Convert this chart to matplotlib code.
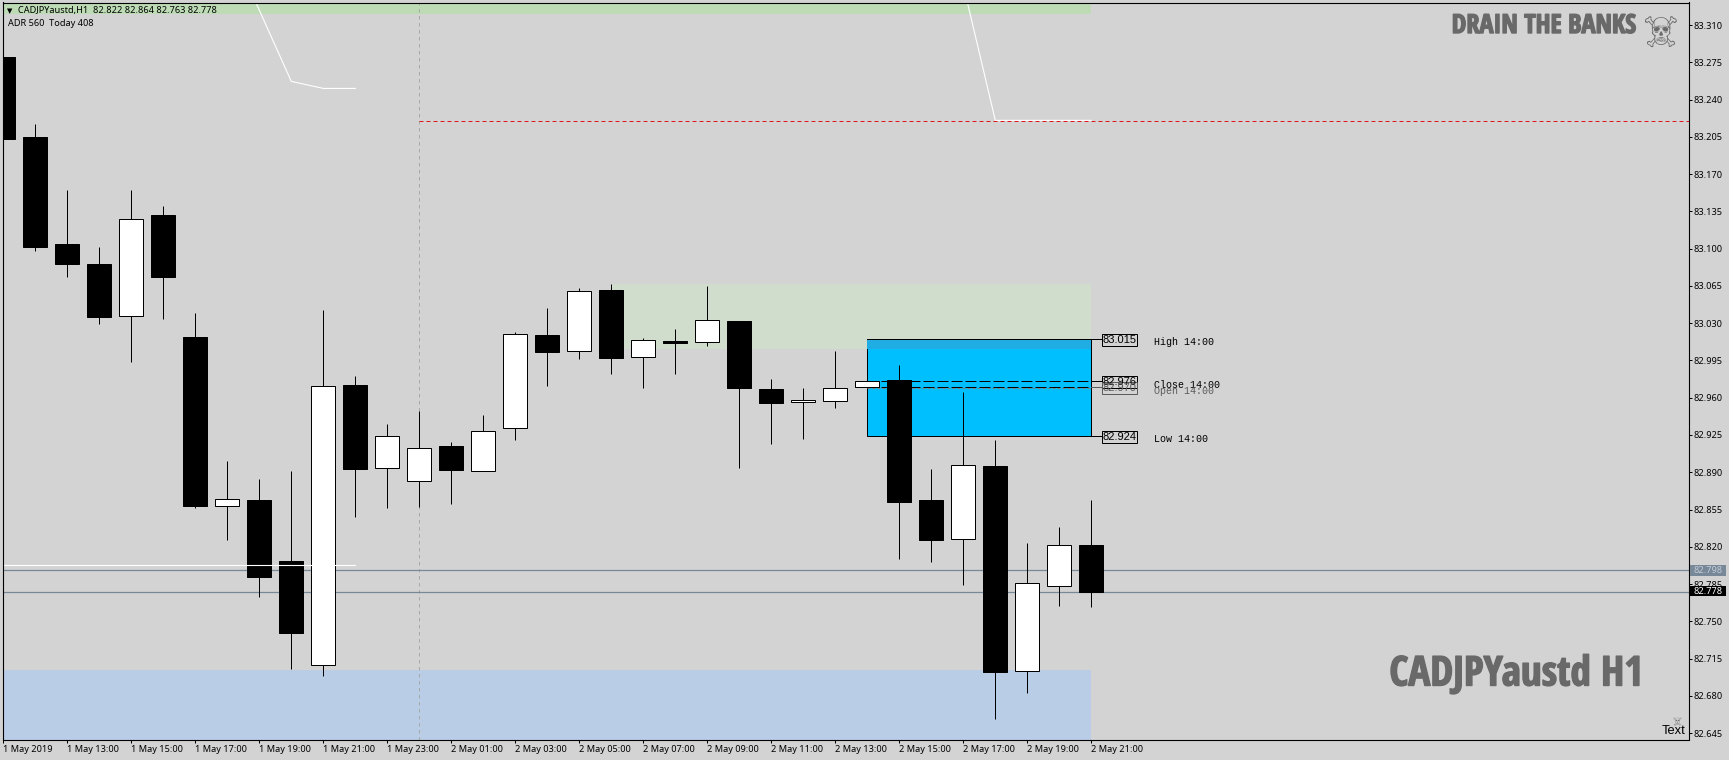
import matplotlib
matplotlib.use("Agg")
import matplotlib.pyplot as plt
import matplotlib.patheffects as pe
from matplotlib.patches import Rectangle

WIDTH = 1729
HEIGHT = 760

# open, high, low, close per hourly candle, from 1 May 11:00
opens = [83.280, 83.205, 83.104, 83.086, 83.037, 83.132, 83.017, 82.858, 82.864, 82.807,
         82.709, 82.972, 82.894, 82.882, 82.915, 82.891, 82.932, 83.019, 83.004, 83.061,
         82.998, 83.013, 83.012, 83.032, 82.968, 82.956, 82.957, 82.970, 82.977, 82.864,
         82.8275, 82.896, 82.7035, 82.783, 82.822]
highs = [83.297, 83.217, 83.155, 83.102, 83.155, 83.140, 83.040, 82.901, 82.884, 82.891,
         83.042, 82.980, 82.935, 82.948, 82.918, 82.944, 83.022, 83.044, 83.063, 83.067,
         83.016, 83.025, 83.065, 83.032, 82.978, 82.969, 83.004, 82.976, 82.991, 82.893,
         82.965, 82.920, 82.8235, 82.8385, 82.864]
lows = [83.181, 83.098, 83.073, 83.029, 82.994, 83.034, 82.856, 82.826, 82.773, 82.705,
        82.699, 82.848, 82.856, 82.857, 82.860, 82.891, 82.920, 82.971, 82.996, 82.982,
        82.969, 82.982, 83.009, 82.894, 82.917, 82.921, 82.950, 82.970, 82.8085, 82.806,
        82.784, 82.658, 82.683, 82.764, 82.763]
closes = [83.203, 83.102, 83.086, 83.036, 83.128, 83.073, 82.858, 82.865, 82.792, 82.739,
          82.971, 82.893, 82.924, 82.913, 82.892, 82.929, 83.020, 83.003, 83.060, 82.997,
          83.014, 83.011, 83.033, 82.969, 82.955, 82.958, 82.969, 82.976, 82.862, 82.826,
          82.8965, 82.702, 82.786, 82.822, 82.778]

x_labels = ["1 May 2019", "1 May 13:00", "1 May 15:00", "1 May 17:00", "1 May 19:00",
            "1 May 21:00", "1 May 23:00", "2 May 01:00", "2 May 03:00", "2 May 05:00",
            "2 May 07:00", "2 May 09:00", "2 May 11:00", "2 May 13:00", "2 May 15:00",
            "2 May 17:00", "2 May 19:00", "2 May 21:00"]
y_ticks = [83.310, 83.275, 83.240, 83.205, 83.170, 83.135, 83.100, 83.065, 83.030, 82.995,
           82.960, 82.925, 82.890, 82.855, 82.820, 82.785, 82.750, 82.715, 82.680, 82.645]

# white indicator lines
line1_x = [7, 8, 9, 10, 11]
line1_y = [83.391, 83.324, 83.2571, 83.2505, 83.2505]
line2_x = [30, 31, 34]
line2_y = [83.3476, 83.2205, 83.2205]
line3_x = [0, 11]
line3_y = [82.8025, 82.8025]

bid_price = 82.778
ask_price = 82.798
red_level = 83.2195
box_high = 83.015
box_low = 82.924
box_close = 82.976
box_open = 82.970

BG = "#d3d3d3"
SLATE = "#778899"
DIM = "#696969"
UI_FONT = "Noto Sans"
TICK_SIZE = 6.6

fig = plt.figure(figsize=(WIDTH / 100, HEIGHT / 100), dpi=100, facecolor=BG)
ax = fig.add_axes([2.5 / WIDTH, 1 - 739.5 / HEIGHT, 1686 / WIDTH, 737 / HEIGHT], facecolor=BG)
ax.set_xlim((2.5 - 3.3) / 32, (1688.5 - 3.3) / 32)
ax.set_ylim(82.639, 83.3312)


def ftext(x, y, s, **kw):
    # text placed by pixel position of the screenshot
    kw.setdefault("family", UI_FONT)
    kw.setdefault("va", "center")
    return fig.text(x / WIDTH, 1 - y / HEIGHT, s, **kw)


def fbox(x0, y0, x1, y1, **kw):
    fig.add_artist(Rectangle((x0 / WIDTH, 1 - y1 / HEIGHT), (x1 - x0) / WIDTH, (y1 - y0) / HEIGHT,
                             transform=fig.transFigure, **kw))


# zones
ax.add_patch(Rectangle((-1, 83.320), 35, 0.02, facecolor="#bddcb6", lw=0, zorder=1))
ax.add_patch(Rectangle((19, 83.0055), 15, 83.067 - 83.0055, facecolor="#d0dccc", lw=0, zorder=1))
ax.add_patch(Rectangle((-1, 82.63), 35, 82.704 - 82.63, facecolor="#b9cde6", lw=0, zorder=1))
ax.add_patch(Rectangle((27, box_low), 7, box_high - box_low, facecolor="#00bfff",
                       edgecolor="black", lw=0.72, zorder=2))
ax.add_patch(Rectangle((27, 83.0055), 7, box_high - 83.0055, facecolor="#1fade3", lw=0, zorder=2.1))
ax.plot([27, 34], [box_high, box_high], color="black", lw=0.72, zorder=2.2)

# levels
ax.axvline(13, color="#a9a9a9", lw=0.72, ls=(0, (3.5, 3.5)), zorder=1.5)
ax.plot([13, 53], [red_level, red_level], color="#e0161e", lw=0.72, ls=(0, (4, 3)), zorder=1.5)
ax.axhline(ask_price, color=SLATE, lw=0.9, zorder=1.6)
ax.axhline(bid_price, color=SLATE, lw=0.9, zorder=1.6)

# open and close lines of the 14:00 candle
ax.plot([27, 34], [box_close, box_close], color="black", lw=0.72, ls=(0, (11, 3)), zorder=2.5)
ax.plot([27, 34], [box_open + 0.0003, box_open + 0.0003], color="black", lw=0.72, ls=(0, (11, 3)), zorder=2.5)
ax.plot([27, 34], [box_open - 0.0012, box_open - 0.0012], color="#808080", lw=0.72, ls=(0, (3, 2)), zorder=2.6)

# candles
for i in range(len(opens)):
    top = max(opens[i], closes[i])
    bottom = min(opens[i], closes[i])
    ax.plot([i, i], [lows[i], highs[i]], color="black", lw=0.72, zorder=3, solid_capstyle="butt")
    face = "white" if closes[i] > opens[i] else "black"
    ax.add_patch(Rectangle((i - 0.375, bottom), 0.75, top - bottom, facecolor=face,
                           edgecolor="black", lw=0.72, zorder=4))

# white lines go over the candles
for xs, ys in [(line1_x, line1_y), (line2_x, line2_y), (line3_x, line3_y)]:
    ax.plot(xs, ys, color="white", lw=0.8, zorder=5)

# axes
for side in ax.spines.values():
    side.set_linewidth(0.8)
    side.set_color("black")
    side.set_zorder(6)
ax.yaxis.tick_right()
ax.set_yticks(y_ticks)
ax.set_yticklabels(["%.3f" % v for v in y_ticks], family=UI_FONT, fontsize=TICK_SIZE, color="black")
ax.tick_params(axis="y", length=2.2, width=0.72, pad=1.6)
ax.set_xticks(list(range(0, 35, 2))[:len(x_labels)])
ax.set_xticklabels(x_labels, family=UI_FONT, fontsize=TICK_SIZE, color="black", ha="left")
ax.tick_params(axis="x", length=2.2, width=0.72, pad=1.8)

# current price tags on the price scale
fbox(1690, 565.3, 1726, 575.7, facecolor=SLATE, lw=0)
ftext(1694, 570.6, "%.3f" % ask_price, fontsize=TICK_SIZE, color="#c4ccd4")
fbox(1690, 586.3, 1726, 596.3, facecolor="black", lw=0)
ftext(1694, 591.4, "%.3f" % bid_price, fontsize=TICK_SIZE, color="white")

# header texts
ftext(6.7, 10.7, "\u25bc", family="DejaVu Sans", fontsize=5, color="black")
ftext(18.3, 10.7, "CADJPYaustd,H1  82.822 82.864 82.763 82.778", fontsize=TICK_SIZE, color="black")
ftext(7.7, 23.7, "ADR 560  Today 408", fontsize=TICK_SIZE, color="black")

# watermarks
heavy = [pe.withStroke(linewidth=1.0, foreground=DIM)]
SYMBOLS = ["Noto Sans Symbols", "Noto Sans Symbols 2", "DejaVu Sans"]
ftext(1451.7, 25.5, "DRAIN THE BANKS", family="Open Sans Condensed", weight="bold", fontsize=18.9,
      color=DIM, path_effects=heavy)
ftext(1660.8, 36, "\u2620", family=SYMBOLS, fontsize=28, color=DIM, ha="center")
ftext(1389.3, 675, "CADJPYaustd H1", family="Open Sans Condensed", weight="bold", fontsize=29.6,
      color=DIM, path_effects=heavy)
ftext(1677.3, 723, "\u2620", family=SYMBOLS, fontsize=7, color=DIM, ha="center")
ftext(1662, 731, "Text", family="Liberation Sans", fontsize=9.3, color="black")

# high low open close labels beside the box
MONO = "Liberation Mono"
rows = [(box_high, "High 14:00", 339.7, 342.3, "black", BG),
        (box_low, "Low 14:00", 437, 439.3, "black", BG),
        (box_close, "Close 14:00", 382, 384.7, "black", BG),
        (box_open, "Open 14:00", 388, 390.7, "#5c5c5c", "none")]
for price, name, y_box, y_name, col, fill in rows:
    ax.plot([34, 34.35], [price, price], color=col, lw=0.72, zorder=3, clip_on=False)
    fbox(1102.3, y_box - 6, 1137.3, y_box + 6, facecolor=fill, edgecolor=col, lw=0.72)
    ftext(1119.8, y_box, "%.3f" % price, family="Liberation Sans", fontsize=8, color=col, ha="center")
    ftext(1153.7, y_name, name, family=MONO, fontsize=7.2, color=col)

fig.savefig("out.png", dpi=100, facecolor=BG)
